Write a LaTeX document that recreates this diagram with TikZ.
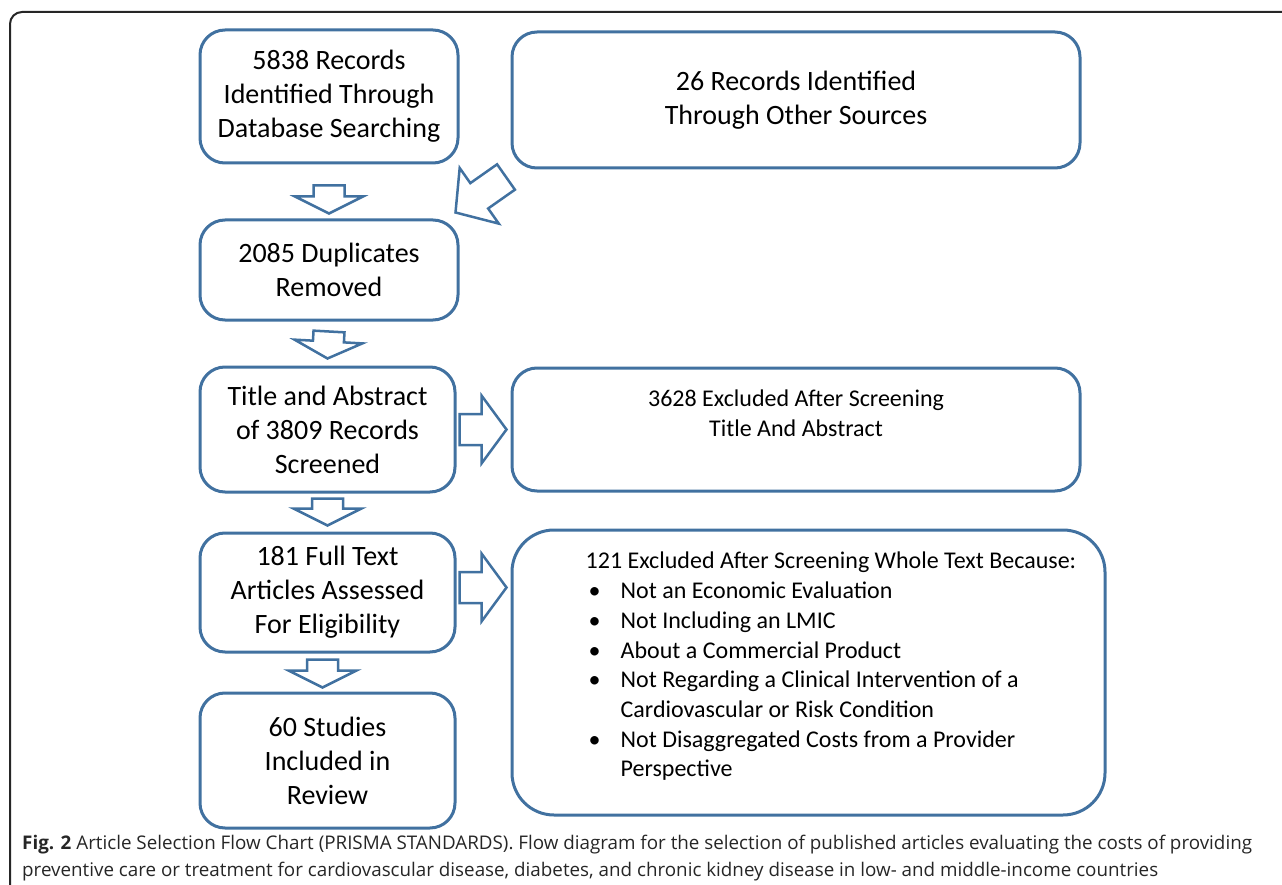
\documentclass[tikz,border=0pt]{standalone}
\usepackage{fontspec}
\setmainfont{Carlito}
\newfontfamily\capfont{Open Sans}
\usepackage{xcolor}
\usetikzlibrary{arrows, positioning, calc}

\definecolor{boxblue}{RGB}{65,113,160}

% hollow block arrow from #1 to #2, head length #3
\newcommand{\fatarrow}[3]{%
  \draw[fatarrow] let \p1=(#1), \p2=(#2),
      \n1={atan2(\y2-\y1,\x2-\x1)}, \n2={veclen(\x2-\x1,\y2-\y1)} in
    [shift={(\p1)}, rotate=\n1]
    (0pt,-15.5pt) -- ({\n2-#3},-15.5pt) -- ({\n2-#3},-34pt) -- (\n2,0pt)
    -- ({\n2-#3},34pt) -- ({\n2-#3},15.5pt) -- (0pt,15.5pt) -- cycle;
}

\begin{document}
\begin{tikzpicture}[x=1pt,y=-1pt,on grid,auto]
    \tikzstyle{box}=[shape=rectangle,draw=boxblue,line width=3pt,rounded corners=25pt,align=center,font=\fontsize{28}{34}\selectfont]
    \tikzstyle{small}=[font=\fontsize{24}{29.7}\selectfont]
    \tikzstyle{fatarrow}=[draw=boxblue,line width=2.5pt,fill=white,line join=miter]

    \useasboundingbox (0,0) rectangle (1282,885);
    \draw[black!85, line width=2pt, rounded corners=12pt] (10,930) -- (10,12) -- (1330,12);

    \node[box,minimum width=258pt,minimum height=133pt] (A1) at (329,96.5) {5838 Records\\Identified Through\\Database Searching};
    \node[box,minimum width=258pt,minimum height=100pt,below of=A1,node distance=173.5pt] (C1) {2085 Duplicates\\Removed};
    \node[box,minimum width=255pt,minimum height=125pt] (D1) at (327.5,429.5) {Title and Abstract\\of 3809 Records\\Screened};
    \node[box,minimum width=255pt,minimum height=119pt,below of=D1,node distance=163pt] (F1) {181 Full Text\\Articles Assessed\\For Eligibility};
    \node[box,minimum width=255pt,minimum height=135pt,below of=F1,node distance=168pt] (H1) {60 Studies\\Included in\\Review};

    \node[box,minimum width=568pt,minimum height=136pt] (B1) at (796,100) {26 Records Identified\\Through Other Sources};
    \node[box,small,minimum width=568pt,minimum height=123pt,right of=D1,node distance=468.5pt,text depth=32pt] (E1) {3628 Excluded After Screening\\Title And Abstract};
    \node[box,minimum width=593pt,minimum height=285pt,rounded corners=42pt] (G1) at (808.5,672.5) {};
    \node[small,align=left,anchor=west,inner sep=0pt] (G2) at ($(G1.west)+(75,-6)$) {%
        121 Excluded After Screening Whole Text Because:\\
        \makebox[35pt][l]{\hspace{3pt}\textbullet}Not an Economic Evaluation\\
        \makebox[35pt][l]{\hspace{3pt}\textbullet}Not Including an LMIC\\
        \makebox[35pt][l]{\hspace{3pt}\textbullet}About a Commercial Product\\
        \makebox[35pt][l]{\hspace{3pt}\textbullet}Not Regarding a Clinical Intervention of a\\
        \hspace*{35pt}Cardiovascular or Risk Condition\\
        \makebox[35pt][l]{\hspace{3pt}\textbullet}Not Disaggregated Costs from a Provider\\
        \hspace*{35pt}Perspective};

    \fatarrow{$(A1.south)+(0,21)$}{$(C1.north)+(0,-5)$}{17pt}
    \fatarrow{$(C1.south)+(0,10)$}{$(D1.north)+(0,-7)$}{17pt}
    \fatarrow{$(D1.south)+(0,5)$}{$(F1.north)+(0,-6)$}{17pt}
    \fatarrow{$(F1.south)+(-5,6)$}{$(H1.north)+(-5,-4)$}{17pt}
    \fatarrow{$(B1.south west)+(-4.5,7.5)$}{$(C1.north east)+(-4,-6)$}{29pt}
    \fatarrow{$(D1.east)+(3,0)$}{$(E1.west)+(-4,0)$}{25pt}
    \fatarrow{$(F1.east)+(3,-5)$}{$(G1.west|-F1.east)+(-4,-5)$}{25pt}

    \node[anchor=base west,align=left,inner sep=0pt,text=black!85,font=\capfont\fontsize{18.8}{27}\selectfont] (cap) at (22,876)
        {\textbf{Fig. 2} Article Selection Flow Chart (PRISMA STANDARDS). Flow diagram for the selection of published articles evaluating the costs of providing\\
         preventive care or treatment for cardiovascular disease, diabetes, and chronic kidney disease in low- and middle-income countries};
\end{tikzpicture}
\end{document}
